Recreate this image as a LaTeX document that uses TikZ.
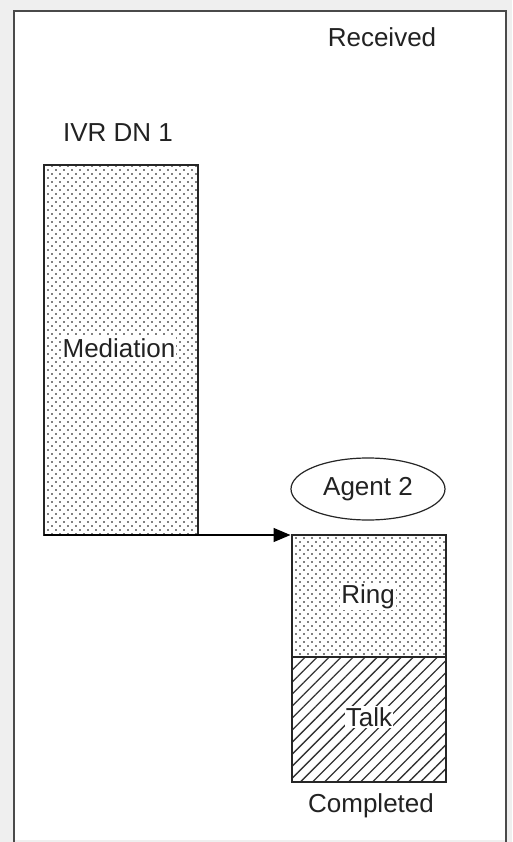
\documentclass[tikz,border=0pt]{standalone}
\usepackage{fontspec}
\setmainfont{Liberation Sans}
\usetikzlibrary{patterns.meta,arrows.meta,shapes.geometric}
\tikzdeclarepattern{
  name=mydots,
  type=uncolored,
  bottom left={(-1pt,-1pt)},
  top right={(7pt,7pt)},
  tile size={(8pt,8pt)},
  code={\fill (0pt,0pt) circle (0.8pt); \fill (4pt,4pt) circle (0.8pt);}
}
\definecolor{bg}{HTML}{EFEFEF}
\definecolor{frame}{HTML}{4A4A4A}
\definecolor{txt}{HTML}{222222}
\begin{document}
\begin{tikzpicture}[x=1pt,y=-1pt,
  lbl/.style={text=txt,font=\fontsize{26}{30}\selectfont,inner sep=1pt},
  inlbl/.style={lbl,fill=white},
  dotbox/.style={draw=black!85,line width=1.4pt,pattern={mydots},pattern color=black,minimum width=154pt,inner sep=0pt,outer sep=0pt,anchor=north west},
  hatchbox/.style={draw=black!85,line width=1.4pt,pattern={Lines[angle=45,distance=8.5pt,line width=1.3pt]},pattern color=black!80,minimum width=154pt,inner sep=0pt,outer sep=0pt,anchor=north west}
]
\useasboundingbox (0,0) rectangle (512,842);
\fill[bg] (0,0) rectangle (512,842);
\fill[white] (14,11) rectangle (506,840);
\draw[frame,line width=2pt] (14,842) -- (14,11) -- (506,11) -- (506,842);

\node[lbl] (received) at (382,37) {Received};
\node[lbl] (ivr) at (118,133) {IVR DN 1};

\node[dotbox,minimum height=370pt] (med) at (44,165) {};
\node[inlbl] (medtxt) at (119,348) {Mediation};

\node[draw=black!85,line width=1.2pt,ellipse,minimum width=154pt,minimum height=62pt,inner sep=0pt,text=txt,font=\fontsize{26}{30}\selectfont] (agent) at (368,489) {Agent 2};

\node[dotbox,minimum height=122pt] (ring) at (292,535) {};
\node[inlbl] (ringtxt) at (368,597) {Ring};
\node[hatchbox,minimum height=125pt] (talk) at (292,657) {};
\node[inlbl] (talktxt) at (369,717) {Talk};

\node[lbl] (completed) at (371,806) {Completed};

\draw[black,line width=1.4pt,-{Triangle[length=17pt,width=14pt]},shorten >=1.5pt] (med.south west) -- (ring.north west);
\end{tikzpicture}
\end{document}
